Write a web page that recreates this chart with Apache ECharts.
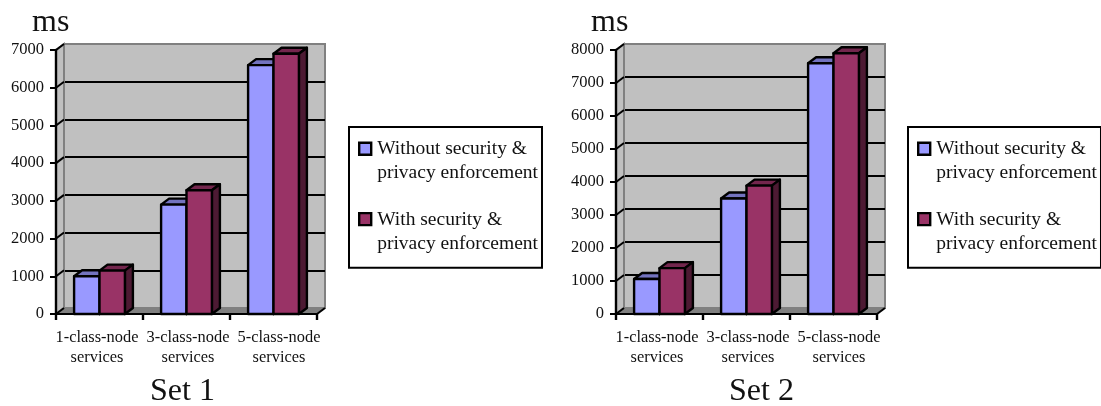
<!DOCTYPE html>
<html>
<head>
<meta charset="utf-8">
<style>html,body{margin:0;padding:0;background:#fff}#c{width:1101px;height:406px}</style>
<script src="https://cdn.jsdelivr.net/npm/echarts@6/dist/echarts.min.js"></script>
</head>
<body>
<div id="c"></div>
<script>
const categories = ['1-class-node\nservices', '3-class-node\nservices', '5-class-node\nservices'];
const seriesNames = ['Without security &\nprivacy enforcement', 'With security &\nprivacy enforcement'];
const set1Without = [1000, 2900, 6600];
const set1With = [1150, 3280, 6900];
const set2Without = [1060, 3500, 7600];
const set2With = [1390, 3890, 7900];
const set1Ticks = [0, 1000, 2000, 3000, 4000, 5000, 6000, 7000];
const set2Ticks = [0, 1000, 2000, 3000, 4000, 5000, 6000, 7000, 8000];

const FONT = '"Liberation Serif","Times New Roman",serif';
const DX = 8, DY = 6;
const BLUE = {front: '#9999ff', top: '#7373bf', side: '#4d4d80'};
const RED = {front: '#993366', top: '#73264d', side: '#4d1a33'};
const WALL = '#c0c0c0', FLOOR = '#808080', EDGE = '#808080';

function barSeries(name, values, gridIdx, pal, side) {
  return {
    type: 'custom', name, xAxisIndex: gridIdx, yAxisIndex: gridIdx, z: 5, clip: false,
    itemStyle: {color: pal.front, borderColor: '#000', borderWidth: 2},
    encode: {x: 0, y: 1},
    data: values.map((v, i) => [i, v]),
    renderItem(params, api) {
      const top = api.coord([api.value(0), api.value(1)]);
      const base = api.coord([api.value(0), 0]);
      const w = api.size([1, 0])[0] * 0.292;
      const x0 = base[0] + (side - 1) * w, x1 = x0 + w;
      const y0 = top[1], y1 = base[1];
      const line = {stroke: '#000', lineWidth: 2.4, lineJoin: 'round'};
      return {type: 'group', children: [
        {type: 'polygon', shape: {points: [[x0, y0], [x0 + DX, y0 - DY], [x1 + DX, y0 - DY], [x1, y0]]}, style: {fill: pal.top, ...line}},
        {type: 'polygon', shape: {points: [[x1, y0], [x1 + DX, y0 - DY], [x1 + DX, y1 - DY], [x1, y1]]}, style: {fill: pal.side, ...line}},
        {type: 'rect', shape: {x: x0, y: y0, width: w, height: y1 - y0}, style: {fill: pal.front, ...line}}
      ]};
    }
  };
}

function frameSeries(ticks, gridIdx) {
  return {
    type: 'custom', name: 'frame', xAxisIndex: gridIdx, yAxisIndex: gridIdx, z: 1, silent: true, clip: false,
    encode: {y: 0},
    data: ticks.map(t => [t]),
    renderItem(params, api) {
      const cs = params.coordSys, v = api.value(0);
      const y = api.coord([0, v])[1];
      const children = [];
      if (params.dataIndex === 0) {
        const l = cs.x, r = cs.x + cs.width, t = cs.y, b = cs.y + cs.height;
        children.push(
          {type: 'polygon', shape: {points: [[l, t], [l + DX, t - DY], [l + DX, b - DY], [l, b]]}, style: {fill: WALL, stroke: EDGE, lineWidth: 2}},
          {type: 'polygon', shape: {points: [[l, b], [l + DX, b - DY], [r + DX, b - DY], [r, b]]}, style: {fill: FLOOR, stroke: EDGE, lineWidth: 1}},
          {type: 'line', shape: {x1: r, y1: b, x2: r + DX, y2: b - DY}, style: {stroke: '#000', lineWidth: 2}}
        );
      }
      children.push({type: 'line', shape: {x1: cs.x, y1: y, x2: cs.x + DX, y2: y - DY}, style: {stroke: '#000', lineWidth: 2}});
      return {type: 'group', children};
    }
  };
}

const labelBase = {fontFamily: FONT, fontSize: 16.4, lineHeight: 20, color: '#111'};
function catAxis(gridIdx, visible) {
  return {
    type: 'category', gridIndex: gridIdx, data: categories, show: visible, z: 3,
    axisLine: {show: true, onZero: false, lineStyle: {color: '#000', width: 2}},
    axisTick: {show: true, length: 6, lineStyle: {color: '#000', width: 2.4}},
    axisLabel: {
      interval: 0, margin: 14, hideOverlap: false, ...labelBase,
      formatter(value, index) {
        return value.split('\n').map(s => '{s' + index + '|' + s + '}').join('\n');
      },
      rich: {
        s0: {...labelBase, padding: [0, 5, 0, 0]},
        s1: {...labelBase, padding: [0, 0, 0, 3]},
        s2: {...labelBase, padding: [0, 0, 0, 11]}
      }
    }
  };
}
function frontY(gridIdx, ticks) {
  return {
    type: 'value', gridIndex: gridIdx, min: 0, max: ticks[ticks.length - 1], interval: ticks[1] - ticks[0], z: 3,
    axisLine: {show: true, lineStyle: {color: '#000', width: 2.4}},
    axisTick: {show: true, length: 6, lineStyle: {color: '#000', width: 2}},
    axisLabel: {margin: 12, fontFamily: FONT, fontSize: 16.5, color: '#111', formatter: v => String(v)},
    splitLine: {show: false}
  };
}
function backY(gridIdx, ticks) {
  return {
    type: 'value', gridIndex: gridIdx, min: 0, max: ticks[ticks.length - 1], interval: ticks[1] - ticks[0],
    axisLine: {show: false}, axisTick: {show: false}, axisLabel: {show: false},
    splitLine: {show: true, showMinLine: false, showMaxLine: false, lineStyle: {color: '#000', width: 2}}
  };
}
const ICON = 'path://M0 0h0M0 5.5h12v12h-12zM13 48h0';
function legend(left) {
  return {
    orient: 'vertical', left, top: 127, selectedMode: false,
    backgroundColor: '#fff', borderColor: '#000', borderWidth: 2, padding: [9, 4, 11, 9],
    itemWidth: 13, itemHeight: 48, itemGap: 20,
    textStyle: {fontFamily: FONT, fontSize: 19.5, lineHeight: 24, color: '#111'},
    data: [
      {name: seriesNames[0], icon: ICON, itemStyle: {color: BLUE.front, borderColor: '#000', borderWidth: 2.4}},
      {name: seriesNames[1], icon: ICON, itemStyle: {color: RED.front, borderColor: '#000', borderWidth: 2.4}}
    ]
  };
}
function heading(text, left, top) {
  return {text, left, top, padding: 0, textStyle: {fontFamily: FONT, fontSize: 32, fontWeight: 'normal', color: '#111'}};
}

const option = {
  animation: false,
  backgroundColor: '#fff',
  title: [heading('ms', 32, 7), heading('Set 1', 150, 376), heading('ms', 591, 7), heading('Set 2', 729, 376)],
  legend: [legend(349), legend(908)],
  grid: [
    {left: 56, top: 50, width: 261, height: 264},
    {left: 64, top: 44, width: 261, height: 264, show: true, backgroundColor: WALL, borderColor: EDGE, borderWidth: 2},
    {left: 616, top: 50, width: 261, height: 264},
    {left: 624, top: 44, width: 261, height: 264, show: true, backgroundColor: WALL, borderColor: EDGE, borderWidth: 2}
  ],
  xAxis: [catAxis(0, true), catAxis(1, false), catAxis(2, true), catAxis(3, false)],
  yAxis: [frontY(0, set1Ticks), backY(1, set1Ticks), frontY(2, set2Ticks), backY(3, set2Ticks)],
  series: [
    frameSeries(set1Ticks, 0),
    barSeries(seriesNames[0], set1Without, 0, BLUE, 0),
    barSeries(seriesNames[1], set1With, 0, RED, 1),
    frameSeries(set2Ticks, 2),
    barSeries(seriesNames[0], set2Without, 2, BLUE, 0),
    barSeries(seriesNames[1], set2With, 2, RED, 1)
  ]
};
echarts.init(document.getElementById('c'), null, {renderer: 'canvas'}).setOption(option);
</script>
</body>
</html>
